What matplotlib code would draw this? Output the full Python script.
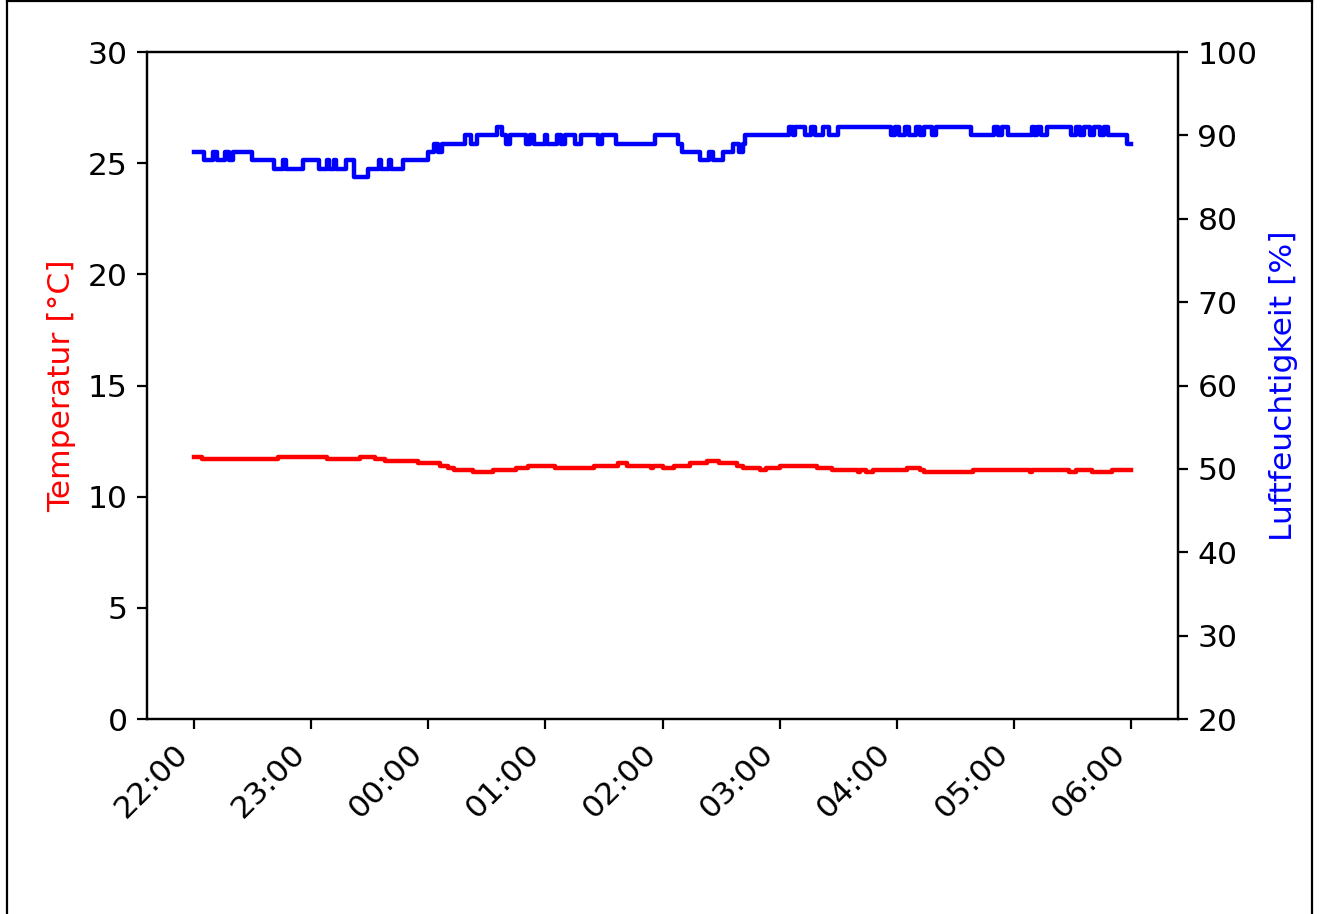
import numpy as np
import pandas as pd
import matplotlib
matplotlib.use("Agg")
import matplotlib.pyplot as plt
import matplotlib.dates as mdates
from matplotlib.lines import Line2D

# Messwerte: Minuten nach 22:00, an denen sich der Wert aendert
hum_min = [0, 5, 10, 12, 16, 18, 20, 30, 41, 45.5, 47, 56, 64, 68, 69, 72, 73, 78, 82, 89,
           95, 96, 100, 101, 107, 120, 123, 125, 127, 139, 142, 145, 155, 158, 160, 162,
           170, 172, 174, 180, 181, 186, 188, 190, 195, 198, 207, 209, 216, 236, 248, 250,
           259, 264, 266, 271, 276, 279, 281, 282, 305, 307, 308, 313, 316, 318, 322, 325,
           330, 357, 359, 361, 364, 366, 370, 372, 374, 378, 380, 398, 410, 412, 414, 417,
           429, 430, 432, 434, 437, 449, 452, 454, 456, 459, 461, 464, 466, 468, 478, 480]
hum_val = [88, 87, 88, 87, 88, 87, 88, 87, 86, 87, 86, 87, 86, 87, 86, 87, 86, 87, 85, 86,
           87, 86, 87, 86, 87, 88, 89, 88, 89, 90, 89, 90, 91, 90, 89, 90,
           89, 90, 89, 90, 89, 90, 89, 90, 89, 90, 89, 90, 89, 90, 89, 88,
           87, 88, 87, 88, 89, 88, 89, 90, 91, 90, 91, 90, 91, 90, 91, 90,
           91, 90, 91, 90, 91, 90, 91, 90, 91, 90, 91, 90, 91, 90, 91, 90,
           91, 90, 91, 90, 91, 90, 91, 90, 91, 90, 91, 90, 91, 90, 89, 89]

temp_min = [0, 4, 43, 68, 85, 93, 98, 115, 126, 130, 133, 143, 153, 165, 171, 185, 205,
            217, 222, 234, 235, 240, 246, 254, 263, 269, 278, 281, 290, 293, 300, 319,
            327, 340, 341, 344, 348, 365, 372, 374, 399, 428, 429, 448, 452, 460, 470, 480]
temp_val = [11.8, 11.7, 11.8, 11.7, 11.8, 11.7, 11.6, 11.5, 11.4, 11.3, 11.2, 11.1, 11.2,
            11.3, 11.4, 11.3, 11.4, 11.5, 11.4, 11.3, 11.4, 11.3, 11.4, 11.5, 11.6, 11.5,
            11.4, 11.3, 11.2, 11.3, 11.4, 11.3, 11.2, 11.1, 11.2, 11.1, 11.2, 11.3, 11.2,
            11.1, 11.2, 11.1, 11.2, 11.1, 11.2, 11.1, 11.2, 11.2]

start = pd.Timestamp("2020-01-01 22:00")
hum_t = (start + pd.to_timedelta(hum_min, unit="min")).to_numpy()
temp_t = (start + pd.to_timedelta(temp_min, unit="min")).to_numpy()

plt.rcParams["font.size"] = 11.3

fig = plt.figure(figsize=(6.61, 4.57), dpi=200)
ax = fig.add_axes([0.1112, 0.2133, 0.7799, 0.7298])
ax.step(temp_t, temp_val, where="post", color="red", linewidth=1.6)
ax.set_ylim(0, 30)
ax.set_ylabel("Temperatur [°C]", color="red")

ax2 = ax.twinx()
ax2.step(hum_t, hum_val, where="post", color="blue", linewidth=1.6)
ax2.set_ylim(20, 100)
ax2.set_ylabel("Luftfeuchtigkeit [%]", color="blue")

ax.xaxis.set_major_locator(mdates.HourLocator())
ax.xaxis.set_major_formatter(mdates.DateFormatter("%H:%M"))
plt.setp(ax.get_xticklabels(), rotation=45, ha="right")

# Rahmen um die Abbildung (unten abgeschnitten)
w, h = 1322, 914
kw = dict(color="black", linewidth=0.8, transform=fig.transFigure)
fig.add_artist(Line2D([7 / w, 7 / w], [0, 1 - 1 / h], **kw))
fig.add_artist(Line2D([7 / w, 1312 / w], [1 - 1 / h, 1 - 1 / h], **kw))
fig.add_artist(Line2D([1312 / w, 1312 / w], [0, 1 - 1 / h], **kw))

fig.savefig("out.png", dpi=200)
